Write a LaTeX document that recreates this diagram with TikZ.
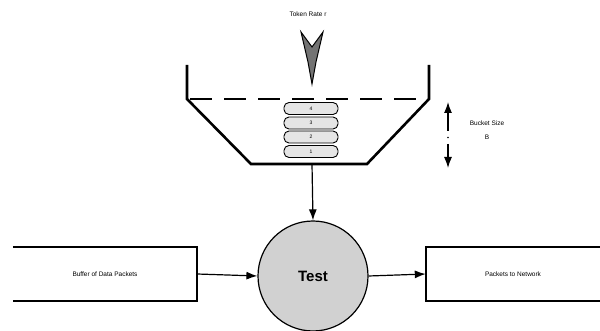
\documentclass[tikz,border=0pt]{standalone}
\usepackage{fontspec}
\setmainfont{Liberation Sans}
\usetikzlibrary{arrows.meta}
\begin{document}
\begin{tikzpicture}[x=1pt,y=-1pt,
  wall/.style={line width=2.6pt, line join=miter},
  level/.style={line width=1.3pt, dash pattern=on 22pt off 12pt},
  token/.style={draw, line width=0.9pt, rounded corners=5pt, fill=black!10,
    minimum width=54pt, minimum height=12pt, inner sep=0pt,
    font=\fontsize{5}{5}\selectfont},
  flow/.style={line width=1.2pt, -{Latex[length=11pt,width=8pt]}},
  boxedge/.style={line width=1.8pt},
  boxtext/.style={inner sep=0pt, font=\fontsize{6.5}{7}\selectfont},
  note/.style={font=\fontsize{6.5}{14}\selectfont, align=center}]
\useasboundingbox (0,0) rectangle (600,331);

% token bucket
\draw[wall] (187,65) -- (187,99) -- (251,164) -- (367,164) -- (429,99) -- (429,65);
\draw[level] (190,99) -- (429,99);
\coordinate (bucketout) at (312,164);

% tokens in the bucket
\node[token] (t4) at (311,108.5) {4};
\node[token] (t3) at (311,123) {3};
\node[token] (t2) at (311,137) {2};
\node[token] (t1) at (311,151.5) {1};

% incoming token stream
\node[note] (rate) at (308,14) {Token Rate r};
\draw[line width=1pt, fill=black!55, line join=miter]
  (301,32) -- (312,47) -- (323,32) -- (316,62) -- (312,84) -- (308,62) -- cycle;

% bucket size indicator
\coordinate (bstop) at (448,102);
\coordinate (bsbot) at (448,168);
\draw[flow] (448,131) -- (bstop);
\fill (448,137.5) circle (0.9pt);
\draw[flow] (448,144) -- (bsbot);
\node[note] (bsize) at (487,130) {Bucket Size\\B};

% test, input buffer and output
\node[circle, draw, line width=1.2pt, fill=black!18, minimum size=110pt, inner sep=0pt,
  font=\bfseries\fontsize{15}{15}\selectfont] (test) at (313,276) {Test};
\node[boxtext, minimum width=184pt, minimum height=54pt] (buffer) at (105,274) {Buffer of Data Packets};
\node[boxtext, minimum width=174pt, minimum height=54pt] (net) at (513,274) {Packets to Network};
\draw[boxedge] (buffer.north west) -- (buffer.north east) -- (buffer.south east) -- (buffer.south west);
\draw[boxedge] (net.north east) -- (net.north west) -- (net.south west) -- (net.south east);

% connectors
\draw[flow] (bucketout) -- (test.north);
\draw[flow] (buffer.east) -- (test.west);
\draw[flow] (test.east) -- (net.west);
\end{tikzpicture}
\end{document}
